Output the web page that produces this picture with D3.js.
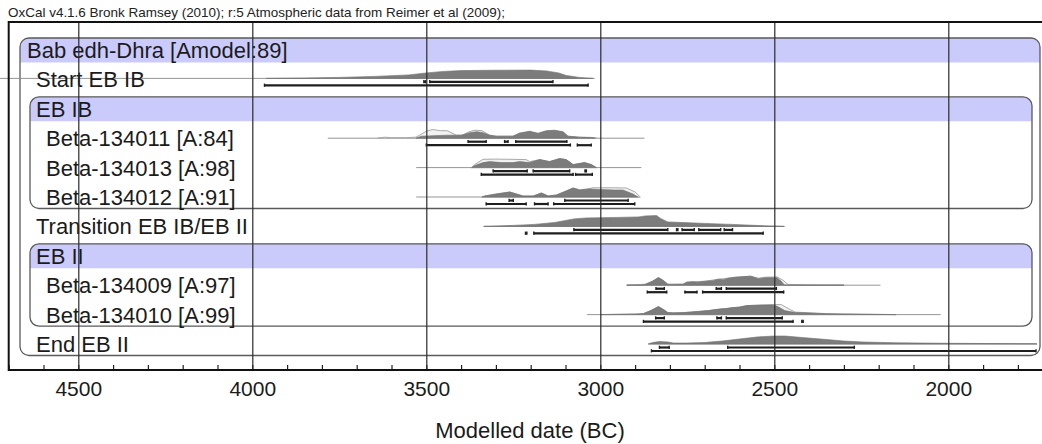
<!DOCTYPE html>
<html><head><meta charset="utf-8">
<script src="https://cdn.jsdelivr.net/npm/d3@7"></script>
<style>html,body{margin:0;padding:0;background:#fff;overflow:hidden}text{font-family:"Liberation Sans",Arial,sans-serif}</style>
</head><body>
<svg id="chart" width="1042" height="444"></svg>
<script>
// ---------------- DATA ----------------
const subtitle = "OxCal v4.1.6 Bronk Ramsey (2010); r:5 Atmospheric data from Reimer et al (2009);";
const axisTitle = "Modelled date (BC)";
const rowLabels = ["Bab edh-Dhra [Amodel:89]", "Start EB IB", "EB IB", "Beta-134011 [A:84]", "Beta-134013 [A:98]", "Beta-134012 [A:91]", "Transition EB IB/EB II", "EB II", "Beta-134009 [A:97]", "Beta-134010 [A:99]", "End EB II"];
const rowLevels = [0, 1, 1, 2, 2, 2, 1, 1, 2, 2, 1];
const groupRows = [[0, 10], [2, 5], [7, 9]]; // [header row, last row]
const majorTicks = [4500, 4000, 3500, 3000, 2500, 2000];
const minorTicks = d3.range(4700, 1700, -100);

// posterior densities [year BC, relative height]
const startPost = [[3960,0],[3850,0.4],[3750,1],[3650,2],[3550,3.5],[3500,5.5],[3450,7],[3400,7.8],[3300,8.2],[3200,8.3],[3155,7.5],[3120,5.5],[3098,3],[3060,1],[3021,0]];
const b011Post = [[3530,0],[3514,2],[3480,2.5],[3440,3],[3400,3],[3375,5.5],[3355,6.5],[3337,5.5],[3318,3],[3299,2],[3251,2],[3232,5],[3203,7],[3179,5],[3155,7.5],[3131,8],[3107,6.5],[3093,2],[3060,1],[3026,0.8],[3015,0]];
const b013Post = [[3370,0],[3361,2],[3337,5],[3318,6],[3285,5],[3251,5],[3232,6],[3203,5],[3174,8],[3146,6],[3117,9],[3098,8],[3078,3],[3045,5],[3026,3],[3011,0]];
const b012Post = [[3340,0],[3332,1],[3299,3],[3260,5],[3241,3],[3222,1],[3193,1],[3169,4],[3150,1],[3126,2],[3098,6],[3078,9],[3059,7],[3031,8],[3002,7.5],[2960,7],[2935,7],[2906,3],[2892,0]];
const transPost = [[3335,0],[3250,1],[3190,2],[3130,4],[3076,7.5],[3040,8.5],[2950,9],[2890,9.5],[2870,10.5],[2838,10.8],[2827,8],[2806,4.5],[2760,3.8],[2700,3],[2620,2],[2540,0.8],[2471,0]];
const b009Post = [[2924,0],[2880,0.2],[2870,1],[2850,4],[2833,7.6],[2820,5],[2806,1],[2795,0.8],[2762,1],[2752,3],[2735,3.5],[2719,3],[2698,4],[2676,4.5],[2660,6],[2645,5.5],[2633,7],[2611,8],[2590,8.5],[2568,9],[2546,6.5],[2525,7.5],[2492,7.5],[2480,4],[2471,0.3],[2400,0.1],[2300,0]];
const b010Post = [[3000,0],[2900,0.2],[2876,1],[2855,4],[2833,8],[2818,5],[2806,2],[2790,1.5],[2760,2],[2720,3],[2690,4],[2660,5.5],[2640,6],[2620,7],[2600,7.5],[2579,9],[2540,9.5],[2503,9.5],[2490,8],[2470,4],[2440,2],[2400,1.5],[2350,0.8],[2298,0.4],[2150,0]];
const endPost = [[2862,0],[2850,1.5],[2830,2.5],[2805,2],[2790,1],[2750,1],[2700,1.5],[2650,3],[2600,5],[2550,7],[2500,8],[2470,8],[2420,6.5],[2350,4.5],[2300,3],[2244,2],[2150,1.2],[2000,0.7],[1850,0.4],[1750,0.3],[1745,0]];

// unmodelled likelihoods (light outline)
const b011Like = [[3640,0],[3620,1],[3600,0.5],[3560,0.5],[3530,1],[3519,3],[3500,7],[3481,8.7],[3460,7.5],[3440,7.5],[3414,3],[3395,3],[3380,6],[3360,8],[3340,7.5],[3328,5],[3318,3],[3299,2],[3251,2],[3232,5],[3203,6.5],[3179,4.5],[3155,7],[3131,7.5],[3107,6],[3093,2],[3060,1],[3026,0.5],[3010,0]];
const b013Like = [[3370,0],[3361,3],[3337,8.3],[3300,8.5],[3260,8.3],[3213,8],[3203,6],[3174,8],[3146,6],[3117,9],[3098,8],[3078,3],[3045,5],[3026,3],[3011,0]];
const b012Like = [[3340,0],[3332,1],[3299,3],[3260,5],[3241,3],[3222,1],[3193,1],[3169,4],[3150,1],[3126,2],[3098,6],[3078,9],[3059,7],[3031,8.5],[3021,9.2],[2960,9.2],[2925,9],[2900,5],[2885,0]];
const b009Like = [[2924,0],[2870,1],[2850,4],[2833,7.6],[2820,5],[2806,1],[2762,1],[2752,3],[2698,4],[2660,6],[2633,7],[2611,8],[2590,8.5],[2568,9],[2546,7],[2525,8],[2492,8.3],[2475,5],[2460,0.5],[2400,0.1],[2300,0]];
const b010Like = [[3000,0],[2876,1],[2855,4],[2833,8],[2818,5],[2806,2],[2760,2],[2690,4],[2640,6],[2600,7.5],[2579,9],[2540,9.5],[2503,10],[2480,10],[2460,6],[2440,2.5],[2350,1],[2150,0]];

// thin range lines [from, to]
const thinLines = [null, [4730, 3016], null, [3783, 2873], [3529, 2882], [3529, 2887], [3335, 2471], null, [2924, 2195], [3038, 2022], [2862, 1745]];
const posteriors = [null, startPost, null, b011Post, b013Post, b012Post, transPost, null, b009Post, b010Post, endPost];
const likelihoods = [null, null, null, b011Like, b013Like, b012Like, null, null, b009Like, b010Like, null];

// 68.2% and 95.4% ranges
const ranges68 = [null, [[3507,3502],[3490,3136]], null,
  [[3380,3328],[3275,3265],[3243,3096]],
  [[3308,3210],[3193,3088],[3044,3040]],
  [[3262,3250],[3102,2920]],
  [[3076,2806],[2781,2777],[2765,2730],[2717,2654],[2644,2620]], null,
  [[2840,2816],[2667,2652],[2638,2494]],
  [[2841,2816],[2665,2652],[2638,2477]],
  [[2830,2802],[2634,2270]]];
const ranges95 = [null, [[3965,3035]], null,
  [[3500,3086],[3066,3026]],
  [[3342,3078],[3071,3023]],
  [[3328,3213],[3189,3150],[3134,2901]],
  [[3215,3211],[3191,2532]], null,
  [[2865,2809],[2757,2722],[2706,2473]],
  [[2876,2446],[2421,2417]],
  [[2853,1748]]];

// ---------------- LAYOUT ----------------
const svg = d3.select("#chart");
const W = 1042, H = 444;
const frameLeft = 8.7, frameTop = 22, axisY = 370;
const x = d3.scaleLinear().domain([4700, 1700]).range([frameLeft, frameLeft + 3000 * 0.348]);
const rowY = d3.scaleLinear().domain([0, 10]).range([50, 344]);
const hY = d3.scaleLinear().domain([0, 10]).range([0, 10]);
const font = "'Liberation Sans', Arial, sans-serif";

svg.append("rect").attr("width", W).attr("height", H).attr("fill", "#fff");

// group boxes
const boxLeft = [20, 30, 30], boxRight = [1040, 1032, 1032];
function bandPath(x0, x1, y0, y1, r) {
  return `M${x0},${y1} L${x0},${y0 + r} Q${x0},${y0} ${x0 + r},${y0} L${x1 - r},${y0} Q${x1},${y0} ${x1},${y0 + r} L${x1},${y1} Z`;
}
groupRows.forEach((g, i) => {
  const top = rowY(g[0]) - 12, bottom = rowY(g[1]) + 11.5;
  const x0 = boxLeft[i], x1 = boxRight[i];
  svg.append("path").attr("d", bandPath(x0, x1, top, top + 24.5, 9)).attr("fill", "#cbcbfb");
  svg.append("rect").attr("x", x0).attr("y", top).attr("width", x1 - x0).attr("height", bottom - top)
    .attr("rx", 9).attr("ry", 9).attr("fill", "none").attr("stroke", "#5a5a5a").attr("stroke-width", 1.3);
});

// distributions
const area = d3.area().x(d => x(d[0])).y0(0).y1(d => -hY(d[1]));
posteriors.forEach((post, i) => {
  const base = rowY(i) - (i === 1 ? 1 : 0);
  const g = svg.append("g").attr("transform", `translate(0,${base})`);
  if (thinLines[i]) {
    g.append("line").attr("x1", x(thinLines[i][0])).attr("x2", x(thinLines[i][1]))
      .attr("y1", 0).attr("y2", 0).attr("stroke", "#8a8a8a").attr("stroke-width", 0.9);
  }
  if (likelihoods[i]) {
    g.append("path").attr("d", area(likelihoods[i])).attr("fill", "#f2f2f2")
      .attr("stroke", "#a9a9a9").attr("stroke-width", 1);
  }
  if (post) {
    g.append("path").attr("d", area(post)).attr("fill", "#7c7c7c")
      .attr("stroke", "#6e6e6e").attr("stroke-width", 0.6);
  }
  const drawRanges = (rs, dy) => {
    if (!rs) return;
    rs.forEach(r => {
      const a = x(r[0]), b = x(r[1]);
      g.append("line").attr("x1", a).attr("x2", b).attr("y1", dy).attr("y2", dy)
        .attr("stroke", "#1e1e1e").attr("stroke-width", 2.2);
      [a, b].forEach(p => g.append("line").attr("x1", p).attr("x2", p).attr("y1", dy - 1.8).attr("y2", dy + 1.4)
        .attr("stroke", "#1e1e1e").attr("stroke-width", 1.4));
    });
  };
  drawRanges(ranges68[i], 3.5);
  drawRanges(ranges95[i], 7);
});

// labels
const indent = [27, 36, 46];
svg.selectAll("text.row").data(rowLabels).enter().append("text").attr("class", "row")
  .attr("x", (d, i) => indent[rowLevels[i]]).attr("y", (d, i) => rowY(i) + 8)
  .attr("font-size", 22).attr("fill", "#1b1b1b").text(d => d);

// axes
const gMinor = svg.append("g").attr("transform", `translate(0,${axisY})`)
  .call(d3.axisBottom(x).tickValues(minorTicks).tickSizeInner(-5).tickSizeOuter(0).tickFormat(""));
gMinor.select(".domain").remove();
gMinor.selectAll(".tick line").attr("stroke", "#222").attr("stroke-width", 1.2);

const gMajor = svg.append("g").attr("transform", `translate(0,${axisY})`)
  .call(d3.axisBottom(x).tickValues(majorTicks).tickSizeInner(-(axisY - frameTop)).tickSizeOuter(0).tickPadding(10.6).tickFormat(d3.format("d")));
gMajor.select(".domain").remove();
gMajor.selectAll(".tick line").attr("stroke", "#2a2a2a").attr("stroke-width", 1.2);
gMajor.selectAll(".tick text").attr("font-size", 21).attr("font-family", font).attr("fill", "#1b1b1b");

// frame
svg.append("line").attr("x1", frameLeft).attr("x2", W).attr("y1", axisY).attr("y2", axisY).attr("stroke", "#111").attr("stroke-width", 2);
svg.append("line").attr("x1", frameLeft).attr("x2", W).attr("y1", frameTop).attr("y2", frameTop).attr("stroke", "#111").attr("stroke-width", 2);
svg.append("line").attr("x1", frameLeft).attr("x2", frameLeft).attr("y1", frameTop - 1).attr("y2", axisY + 1).attr("stroke", "#111").attr("stroke-width", 2);

// titles
svg.append("text").attr("x", 8).attr("y", 17).attr("font-size", 13).attr("textLength", 497)
  .attr("lengthAdjust", "spacingAndGlyphs").attr("fill", "#222").text(subtitle);
svg.append("text").attr("x", 530).attr("y", 438).attr("text-anchor", "middle").attr("font-size", 22)
  .attr("fill", "#1b1b1b").text(axisTitle);
</script></body></html>
